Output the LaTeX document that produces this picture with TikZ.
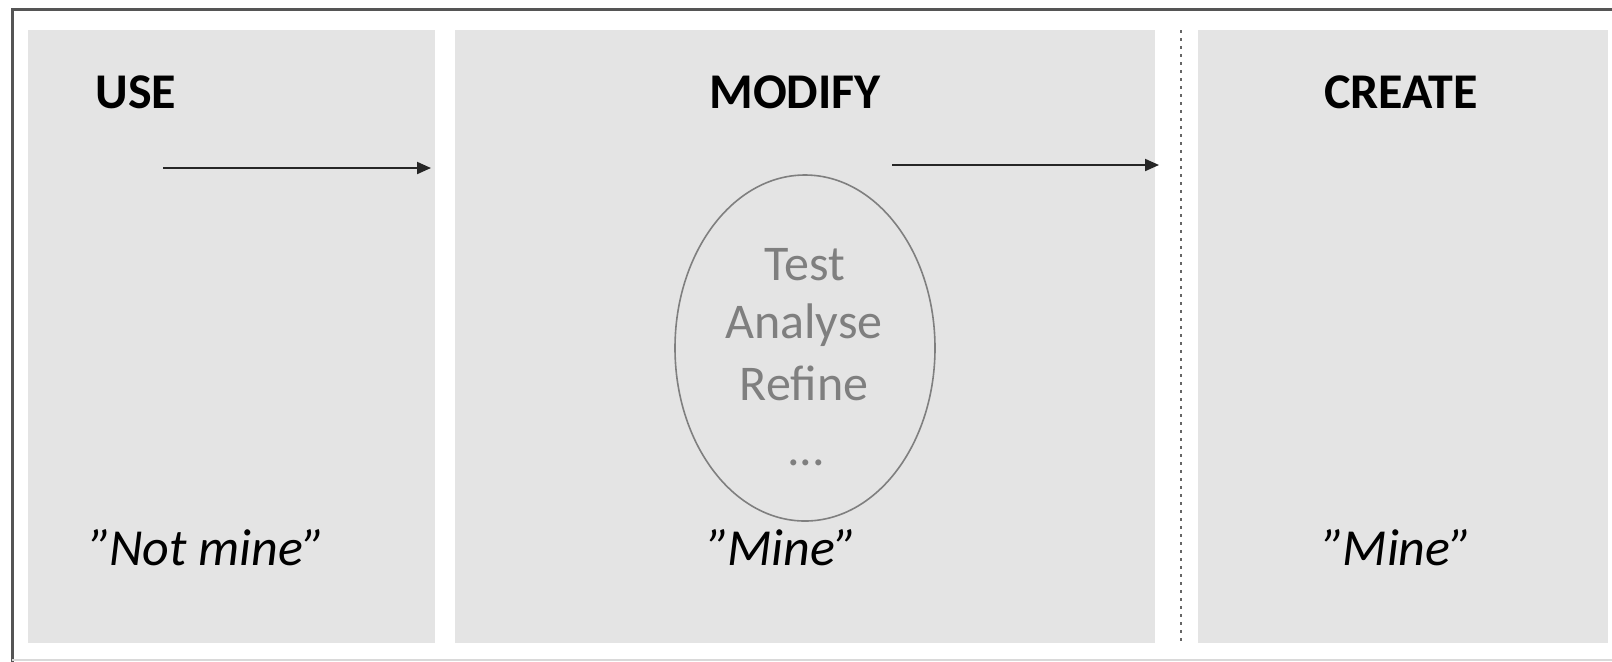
\documentclass[tikz,border=0pt]{standalone}
\usepackage{fontspec}
\setmainfont{Carlito}
\usetikzlibrary{arrows.meta,shapes.geometric,fit}
\definecolor{panelgray}{HTML}{E4E4E4}
\definecolor{framegray}{HTML}{555555}
\definecolor{softgray}{HTML}{7F7F7F}
\newcommand{\openquote}{”\kern-1.5pt}
\tikzset{
  panel/.style={fill=panelgray, draw=none, inner sep=0pt},
  heading/.style={font=\fontsize{25}{30}\selectfont\bfseries, anchor=base, inner sep=0pt},
  owner/.style={font=\fontsize{26}{30}\selectfont\itshape, anchor=base, inner sep=0pt},
  stage/.style={font=\fontsize{25}{28}\selectfont, text=softgray, anchor=base, inner sep=0pt},
  flow/.style={draw=black!85, line width=1pt, -{Triangle[length=7pt,width=6pt]}},
}
\begin{document}
\begin{tikzpicture}[x=0.5pt, y=-0.5pt]
  \useasboundingbox (0,0) rectangle (1612,661);
  \clip (0,0) rectangle (1612,661);
  \fill[white] (0,0) rectangle (1612,661);

  % outer frame
  \draw[framegray, line width=1.5pt] (12,662) -- (12,9) -- (1620,9);
  \draw[black!15, line width=1pt] (12,660) -- (1620,660);

  % the three stages
  \node[panel, fit={(28,30) (435,643)}] (use) {};
  \node[panel, fit={(455,30) (1155,643)}] (modify) {};
  \node[panel, fit={(1198,30) (1608,643)}] (create) {};

  % divider before CREATE
  \coordinate (divtop) at (1181,30);
  \coordinate (divbot) at (1181,643);
  \draw[black!60, line width=1pt, dash pattern=on 1.5pt off 2.5pt] (divtop) -- (divbot);

  % headings
  \node[heading, anchor=base west] (usetitle) at (95,108) {USE};
  \node[heading] (modtitle) at (795,108) {MODIFY};
  \node[heading] (cretitle) at (1401,108) {CREATE};

  % ownership labels
  \node[owner, anchor=base west] (usenote) at (90,565) {\openquote Not mine”};
  \node[owner] (modnote) at (783,565) {\openquote Mine”};
  \node[owner] (crenote) at (1398,565) {\openquote Mine”};

  % iteration cycle
  \node[ellipse, draw=softgray, line width=0.8pt, minimum width=130pt, minimum height=173pt, inner sep=0pt] (cycle) at (805,348) {};
  \node[stage] (test) at (805,280) {Test};
  \node[stage] (analyse) at (804,338) {Analyse};
  \node[stage] (refine) at (804,400) {Refine};
  \node[stage] (more) at (806,465) {...};

  % progression arrows
  \coordinate (a1s) at (163,168);
  \coordinate (a1e) at (431,168);
  \coordinate (a2s) at (892,165);
  \coordinate (a2e) at (1159,165);
  \draw[flow] (a1s) -- (a1e);
  \draw[flow] (a2s) -- (a2e);
\end{tikzpicture}
\end{document}
